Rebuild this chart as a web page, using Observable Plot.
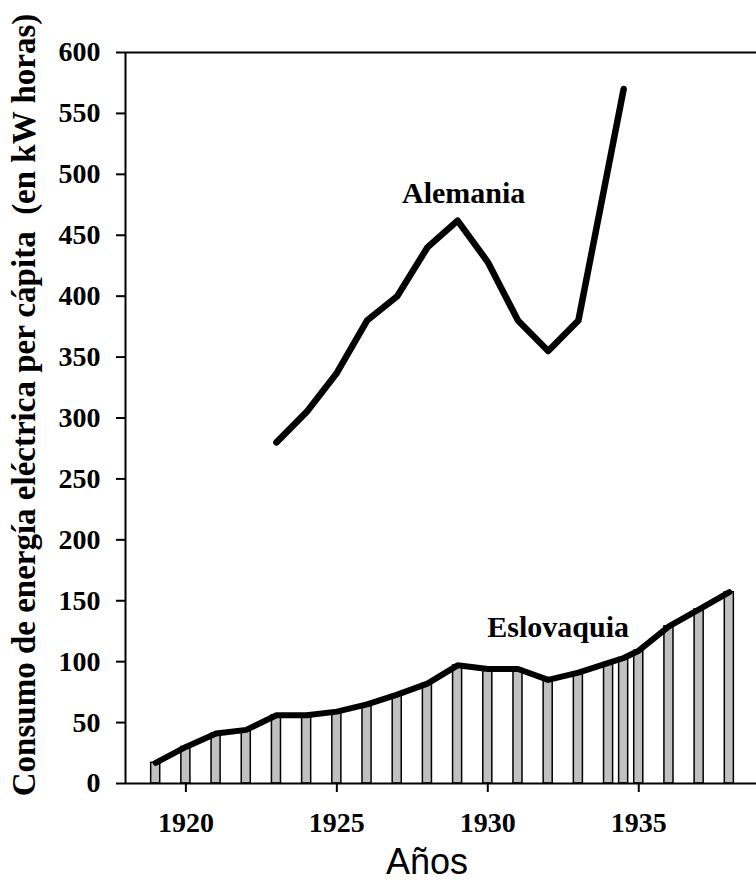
<!DOCTYPE html>
<html>
<head>
<meta charset="utf-8">
<script src="https://cdn.jsdelivr.net/npm/d3@7"></script>
<script src="https://cdn.jsdelivr.net/npm/@observablehq/plot@0.6"></script>
<style>
  html, body { margin: 0; padding: 0; background: #fff; }
</style>
</head>
<body>
<div id="chart"></div>
<script>
// Data
const germanyYears  = [1923, 1924, 1925, 1926, 1927, 1928, 1929, 1930, 1931, 1932, 1933, 1934.5];
const germanyValues = [280, 305, 337, 380, 400, 440, 462, 428, 380, 355, 380, 570];

const slovakYears  = [1919, 1920, 1921, 1922, 1923, 1924, 1925, 1926, 1927, 1928, 1929, 1930, 1931, 1932, 1933, 1934, 1934.5, 1935, 1936, 1937, 1938];
const slovakValues = [17, 30, 41, 44, 56, 56, 59, 65, 73, 82, 97, 94, 94, 85, 91, 99, 103, 109, 129, 143, 157];

const xTicks = [1920, 1925, 1930, 1935];
const yTicks = [0, 50, 100, 150, 200, 250, 300, 350, 400, 450, 500, 550, 600];

const seriesLabels = [
  {name: "Alemania", year: 1929.2, value: 484},
  {name: "Eslovaquia", year: 1932.33, value: 128}
];
const yTitle = "Consumo de energía eléctrica per cápita  (en kW horas)";
const xTitle = "Años";

const germany = germanyYears.map((y, i) => ({year: y, value: germanyValues[i]}));
const slovak = slovakYears.map((y, i) => ({year: y, value: slovakValues[i]}));

const serif = "'Liberation Serif', 'Times New Roman', serif";

const chart = Plot.plot({
  width: 756,
  height: 885,
  marginLeft: 125,
  marginRight: 0,
  marginTop: 52,
  marginBottom: 102,
  style: {fontFamily: serif, fontWeight: "bold", fontSize: "28px", color: "#000", background: "#fff"},
  x: {domain: [1918, 1938.9]},
  y: {domain: [0, 600]},
  marks: [
    Plot.rectY(slovak, {
      x1: d => d.year - 0.15,
      x2: d => d.year + 0.15,
      y1: 0,
      y2: "value",
      fill: "#c0c0c0",
      stroke: "#000",
      strokeWidth: 1.5
    }),
    Plot.line(slovak, {x: "year", y: "value", stroke: "#000", strokeWidth: 6, strokeLinejoin: "round"}),
    Plot.line(germany, {x: "year", y: "value", stroke: "#000", strokeWidth: 6.5, strokeLinejoin: "round"}),
    Plot.text(seriesLabels, {x: "year", y: "value", text: "name", fontSize: 30, fontWeight: "bold", fontFamily: serif, fill: "#000"}),
    Plot.ruleY([0, 600], {stroke: "#000", strokeWidth: 2}),
    Plot.ruleX([1918], {stroke: "#000", strokeWidth: 2}),
    Plot.axisY({ticks: yTicks, tickSize: 9, tickPadding: 16, tickFormat: d => String(d), label: null, fontSize: 28, fontWeight: "bold", strokeWidth: 2}),
    Plot.axisX({ticks: xTicks, tickSize: 9, tickPadding: 20, tickFormat: d => String(d), label: null, fontSize: 28, fontWeight: "bold", strokeWidth: 2}),
    Plot.text([yTitle], {frameAnchor: "left", textAnchor: "middle", dx: -101, dy: -13, rotate: -90, fontSize: 33, fontWeight: "bold", fontFamily: serif, fill: "#000"}),
    Plot.text([xTitle], {frameAnchor: "bottom", textAnchor: "middle", dy: 90, dx: -14, fontSize: 36, fontWeight: "normal", fontFamily: "'Liberation Sans', Arial, sans-serif", fill: "#000"})
  ]
});
document.getElementById("chart").appendChild(chart);
</script>
</body>
</html>
